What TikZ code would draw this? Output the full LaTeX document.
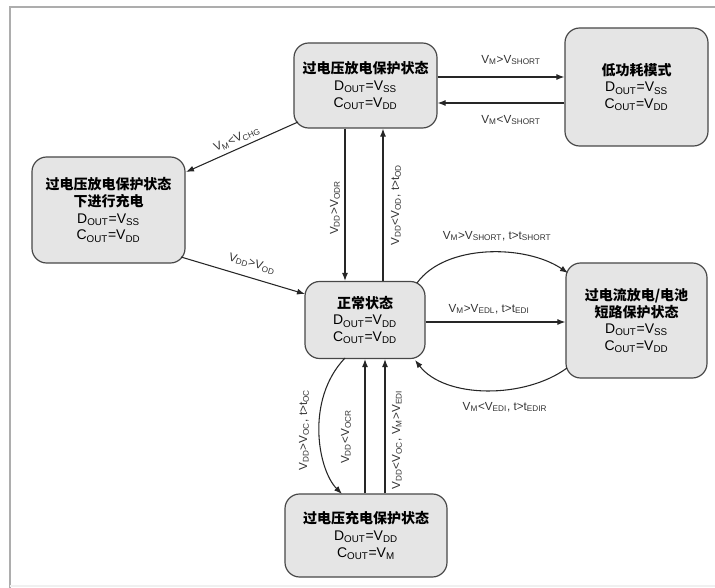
\documentclass[tikz,border=0pt]{standalone}
\usepackage{fontspec}
\setmainfont{Liberation Sans}
\newfontfamily\cjk{Noto Sans CJK SC}
\usetikzlibrary{arrows.meta}
\newcommand\sbs[1]{\textsubscript{#1}}
\newcommand\zh[1]{{\cjk\bfseries #1}}
\tikzset{
  state/.style={draw=black!72, fill=black!10, rounded corners=11pt, line width=0.9pt,
    align=center, inner sep=0pt, font=\fontsize{10.5}{12.5}\selectfont},
  lbl/.style={font=\fontsize{8.8}{10}\selectfont, text=black!80, inner sep=0.5pt},
  conn/.style={draw=black!85, line width=0.8pt, -{Latex[length=6pt,width=4.5pt]}},
  frame/.style={draw=black!32, line width=1.4pt}
}
\begin{document}
\begin{tikzpicture}[x=0.75pt,y=-0.75pt]
\useasboundingbox (0,0) rectangle (715,588);
\draw[frame] (10,588) -- (10,7) -- (715,7);
\draw[draw=black!6, line width=0.8pt] (10,586) -- (715,586);

\node[state, minimum width=107.25pt, minimum height=63.75pt] (A) at (365.5,85.5)
  {\zh{过电压放电保护状态}\\D\sbs{OUT}=V\sbs{SS}\\C\sbs{OUT}=V\sbs{DD}};
\node[state, minimum width=107.25pt, minimum height=88.5pt] (B) at (636.5,87)
  {\zh{低功耗模式}\\D\sbs{OUT}=V\sbs{SS}\\C\sbs{OUT}=V\sbs{DD}};
\node[state, minimum width=114.75pt, minimum height=79.5pt] (C) at (108.5,210)
  {\zh{过电压放电保护状态}\\\zh{下进行充电}\\D\sbs{OUT}=V\sbs{SS}\\C\sbs{OUT}=V\sbs{DD}};
\node[state, minimum width=90pt, minimum height=57.75pt] (D) at (365,320)
  {\zh{正常状态}\\D\sbs{OUT}=V\sbs{DD}\\C\sbs{OUT}=V\sbs{DD}};
\node[state, minimum width=105.75pt, minimum height=86.25pt] (E) at (636.5,320.5)
  {\zh{过电流放电/电池}\\\zh{短路保护状态}\\D\sbs{OUT}=V\sbs{SS}\\C\sbs{OUT}=V\sbs{DD}};
\node[state, minimum width=121.5pt, minimum height=62.25pt] (F) at (366,535.5)
  {\zh{过电压充电保护状态}\\D\sbs{OUT}=V\sbs{DD}\\C\sbs{OUT}=V\sbs{M}};

% A <-> B
\draw[conn] (A.east |- 0,77) -- (B.west |- 0,77);
\draw[conn] (B.west |- 0,103) -- (A.east |- 0,103);
\node[lbl] (lab1) at (511,60) {V\sbs{M}>V\sbs{SHORT}};
\node[lbl] (lab2) at (511,120) {V\sbs{M}<V\sbs{SHORT}};

% A -> C
\coordinate (a1) at (298,122);
\coordinate (c1) at (186,172);
\draw[conn] (a1) -- (c1);
\node[lbl, rotate=24] (lab3) at (237,139) {V\sbs{M}<V\sbs{CHG}};

% C -> D
\coordinate (c2) at (181,257);
\coordinate (d1) at (305,294);
\draw[conn] (c2) -- (d1);
\node[lbl, rotate=-17] (lab4) at (252,264) {V\sbs{DD}>V\sbs{OD}};

% A <-> D
\draw[conn] (A.south -| 345,0) -- (D.north -| 345,0);
\draw[conn] (D.north -| 383,0) -- (A.south -| 383,0);
\node[lbl, rotate=90] (lab5) at (335,208) {V\sbs{DD}>V\sbs{ODR}};
\node[lbl, rotate=90] (lab6) at (396,205) {V\sbs{DD}<V\sbs{OD}, t>t\sbs{OD}};

% D <-> E
\coordinate (d2) at (417,283);
\coordinate (e1) at (568,273);
\draw[conn] (d2) .. controls (445,244) and (525,244) .. (e1);
\node[lbl] (lab7) at (497,236) {V\sbs{M}>V\sbs{SHORT}, t>t\sbs{SHORT}};
\draw[conn] (D.east |- 0,322) -- (E.west |- 0,322);
\node[lbl] (lab8) at (489,309) {V\sbs{M}>V\sbs{EDL}, t>t\sbs{EDI}};
\coordinate (e2) at (567,368);
\coordinate (d3) at (415,360);
\draw[conn] (e2) .. controls (525,399) and (445,399) .. (d3);
\node[lbl] (lab9) at (505,407) {V\sbs{M}<V\sbs{EDI}, t>t\sbs{EDIR}};

% D <-> F
\coordinate (d4) at (345,358);
\coordinate (f1) at (342,494);
\draw[conn] (d4) .. controls (305,400) and (318,470) .. (f1);
\node[lbl, rotate=90] (lab10) at (304,430) {V\sbs{DD}>V\sbs{OC}, t>t\sbs{OC}};
\draw[conn] (F.north -| 365,0) -- (D.south -| 365,0);
\draw[conn] (F.north -| 385,0) -- (D.south -| 385,0);
\node[lbl, rotate=90] (lab11) at (346,437) {V\sbs{DD}<V\sbs{OCR}};
\node[lbl, rotate=90] (lab12) at (397,440) {V\sbs{DD}<V\sbs{OC}, V\sbs{M}>V\sbs{EDI}};
\end{tikzpicture}
\end{document}
